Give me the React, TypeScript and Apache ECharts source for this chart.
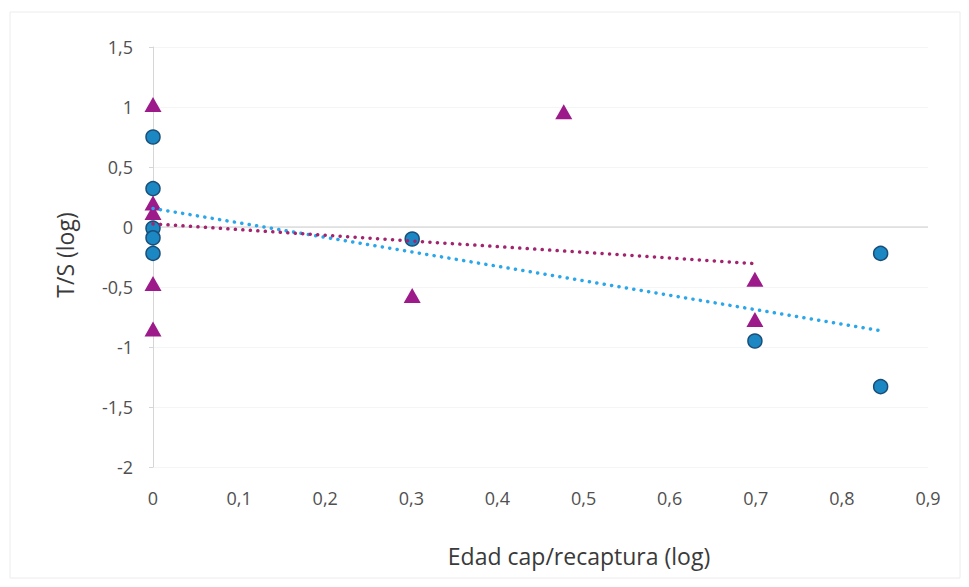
import React, { useEffect, useRef } from "react";
import * as echarts from "echarts";

// Series 1 (blue circles)
const blueX = [0, 0, 0, 0, 0, 0.301, 0.699, 0.845, 0.845];
const blueY = [0.75, 0.32, -0.01, -0.09, -0.22, -0.1, -0.95, -0.22, -1.33];
// Series 2 (magenta triangles)
const magentaX = [0, 0, 0, 0, 0, 0.301, 0.477, 0.699, 0.699];
const magentaY = [1.02, 0.2, 0.12, -0.47, -0.85, -0.57, 0.96, -0.436, -0.77];

const xAxisTitle = "Edad cap/recaptura (log)";
const yAxisTitle = "T/S (log)";

function fit(xs: number[], ys: number[]) {
  const n = xs.length;
  const mx = xs.reduce((a, b) => a + b, 0) / n;
  const my = ys.reduce((a, b) => a + b, 0) / n;
  let sxy = 0, sxx = 0;
  for (let i = 0; i < n; i++) {
    sxy += (xs[i] - mx) * (ys[i] - my);
    sxx += (xs[i] - mx) * (xs[i] - mx);
  }
  const slope = sxy / sxx;
  const intercept = my - slope * mx;
  const x0 = Math.min(...xs);
  const x1 = Math.max(...xs);
  return [
    [x0, intercept + slope * x0],
    [x1, intercept + slope * x1],
  ];
}

const fmt = (v: number) => String(Number(v.toFixed(2))).replace(".", ",");

export default function App() {
  const ref = useRef<HTMLDivElement>(null);
  useEffect(() => {
    if (!ref.current) return;
    const chart = echarts.init(ref.current, undefined, { renderer: "svg" });
    const font = "'Open Sans', Lato, sans-serif";
    chart.setOption({
      animation: false,
      backgroundColor: "#ffffff",
      textStyle: { fontFamily: font },
      grid: { left: 153, right: 41, top: 47, bottom: 120, containLabel: false },
      xAxis: {
        type: "value",
        min: 0,
        max: 0.9,
        interval: 0.1,
        axisLine: { show: false, onZero: false },
        axisTick: { show: false },
        splitLine: { show: false },
        axisLabel: {
          margin: 22,
          fontSize: 18,
          color: "#505050",
          fontFamily: font,
          formatter: (v: number) => fmt(v),
        },
      },
      yAxis: {
        type: "value",
        min: -2,
        max: 1.5,
        interval: 0.5,
        axisLine: { show: true, lineStyle: { color: "#d6d6d6", width: 1 } },
        axisTick: { show: true, length: 4, lineStyle: { color: "#d6d6d6" } },
        splitLine: { show: true, lineStyle: { color: "#f5f5f5", width: 1 } },
        axisLabel: {
          margin: 20,
          fontSize: 18,
          color: "#505050",
          fontFamily: font,
          formatter: (v: number) => fmt(v),
        },
      },
      graphic: [
        {
          type: "rect",
          shape: { x: 10, y: 12, width: 950, height: 566 },
          style: { fill: "none", stroke: "#ececec", lineWidth: 1 },
          silent: true,
          z: -1,
        },
        {
          type: "text",
          x: 579,
          y: 556,
          style: {
            text: xAxisTitle,
            fontSize: 23,
            fill: "#3a3a3a",
            fontFamily: font,
            align: "center",
            verticalAlign: "middle",
          },
        },
        {
          type: "text",
          x: 65,
          y: 255,
          rotation: Math.PI / 2,
          style: {
            text: yAxisTitle,
            fontSize: 23,
            fill: "#3a3a3a",
            fontFamily: font,
            align: "center",
            verticalAlign: "middle",
          },
        },
      ],
      series: [
        {
          type: "line",
          data: [
            [0, 0],
            [0.9, 0],
          ],
          showSymbol: false,
          silent: true,
          lineStyle: { color: "#cccccc", width: 1 },
          z: 1,
        },
        {
          type: "scatter",
          name: "blue",
          data: blueX.map((x, i) => [x, blueY[i]]),
          symbol: "circle",
          symbolSize: 14,
          itemStyle: { color: "#1b88c4", borderColor: "#1a4e78", borderWidth: 1.5, opacity: 1 },
          z: 3,
        },
        {
          type: "scatter",
          name: "magenta",
          data: magentaX.map((x, i) => [x, magentaY[i]]),
          symbol: "triangle",
          symbolSize: [17, 15],
          itemStyle: { color: "#9c1a8a", opacity: 1 },
          z: 3,
        },
        {
          type: "line",
          data: fit(blueX, blueY),
          showSymbol: false,
          silent: true,
          lineStyle: { color: "#2aa6ea", width: 3.5, type: [0.1, 7.4], cap: "round" },
          z: 5,
        },
        {
          type: "line",
          data: fit(magentaX, magentaY),
          showSymbol: false,
          silent: true,
          lineStyle: { color: "#a3246e", width: 3.5, type: [0.1, 7.4], cap: "round" },
          z: 5,
        },
      ],
    });
    return () => chart.dispose();
  }, []);
  return (
    <div
      ref={ref}
      style={{ position: "fixed", left: 0, top: 0, width: 969, height: 587, background: "#fff" }}
    />
  );
}
